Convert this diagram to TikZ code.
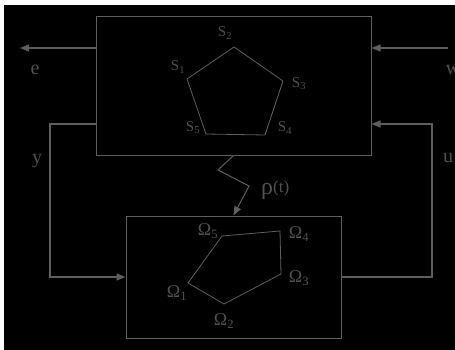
\documentclass[tikz,border=0pt]{standalone}
\usepackage{fontspec}
\setmainfont{Liberation Serif}
\usetikzlibrary{arrows.meta}
\definecolor{linegray}{HTML}{5E5E5E}
\definecolor{textgray}{HTML}{505050}
\tikzset{
  blockbox/.style={draw=linegray, line width=1pt, inner sep=0pt},
  sigline/.style={draw=linegray, line width=1.3pt, -{Triangle[length=9pt,width=7pt]}},
  poly/.style={draw=linegray, line width=0.8pt},
  lbl/.style={text=textgray, inner sep=0pt, font=\fontsize{20}{22}\selectfont},
  slbl/.style={text=textgray, inner sep=0pt, font=\fontsize{15}{17}\selectfont},
  olbl/.style={text=textgray, inner sep=0pt, font=\fontsize{18}{20}\selectfont},
}
\begin{document}
\begin{tikzpicture}[x=1pt, y=-1pt]
  % page frame
  \fill[white] (0,0) rectangle (455,350);
  \fill[black] (4,5) rectangle (455,350);
  \useasboundingbox (0,0) rectangle (455,350);

  % plant block and scheduling block
  \node[blockbox, minimum width=275pt, minimum height=138pt] (plant) at (233.5,86) {};
  \node[blockbox, minimum width=215pt, minimum height=122pt] (ctrl) at (233.5,277) {};

  % external signals
  \coordinate (eend) at (20,48);
  \coordinate (wstart) at (448,48);
  \coordinate (ycorner) at (50,124);
  \coordinate (ucorner) at (432,124);
  \coordinate (plantE) at (plant.west |- eend);
  \coordinate (plantW) at (plant.east |- wstart);
  \coordinate (plantY) at (plant.west |- ycorner);
  \coordinate (plantU) at (plant.east |- ucorner);
  \draw[sigline] (plantE) -- (eend);
  \draw[sigline] (wstart) -- (plantW);

  % feedback loop
  \draw[sigline] (plantY) -- (ycorner) |- (ctrl.west);
  \draw[sigline] (ctrl.east) -| (ucorner) -- (plantU);

  % scheduling parameter
  \draw[sigline, line width=1pt] (plant.south) -- (218,170) -- (249,186) -- (ctrl.north);
  \node[text=textgray, inner sep=0pt, anchor=west] (rho) at (261,190)
    {\fontsize{24}{26}\selectfont ρ\raisebox{2pt}{\fontsize{17}{19}\selectfont(t)}};

  % signal labels
  \node[lbl] (le) at (35,70) {e};
  \node[lbl] (lw) at (453,70) {w};
  \node[lbl] (ly) at (37,161) {y};
  \node[lbl] (lu) at (448,158) {u};

  % vertex set S
  \coordinate (s1) at (187,79);
  \coordinate (s2) at (234,47);
  \coordinate (s3) at (283,81);
  \coordinate (s4) at (265,135);
  \coordinate (s5) at (206,134);
  \draw[poly] (s1) -- (s2) -- (s3) -- (s4) -- (s5) -- cycle;
  \node[slbl] (ls1) at (178,67) {S\textsubscript{1}};
  \node[slbl] (ls2) at (225,33) {S\textsubscript{2}};
  \node[slbl] (ls3) at (299,84) {S\textsubscript{3}};
  \node[slbl] (ls4) at (285,128) {S\textsubscript{4}};
  \node[slbl] (ls5) at (193,128) {S\textsubscript{5}};

  % vertex set Omega
  \coordinate (o1) at (188,283);
  \coordinate (o2) at (224,304);
  \coordinate (o3) at (281,274);
  \coordinate (o4) at (280,231);
  \coordinate (o5) at (222,236);
  \draw[poly] (o1) -- (o2) -- (o3) -- (o4) -- (o5) -- cycle;
  \node[olbl] (lo1) at (177,293) {Ω\textsubscript{1}};
  \node[olbl] (lo2) at (224,321) {Ω\textsubscript{2}};
  \node[olbl] (lo3) at (299,278) {Ω\textsubscript{3}};
  \node[olbl] (lo4) at (299,234) {Ω\textsubscript{4}};
  \node[olbl] (lo5) at (208,231) {Ω\textsubscript{5}};
\end{tikzpicture}
\end{document}
